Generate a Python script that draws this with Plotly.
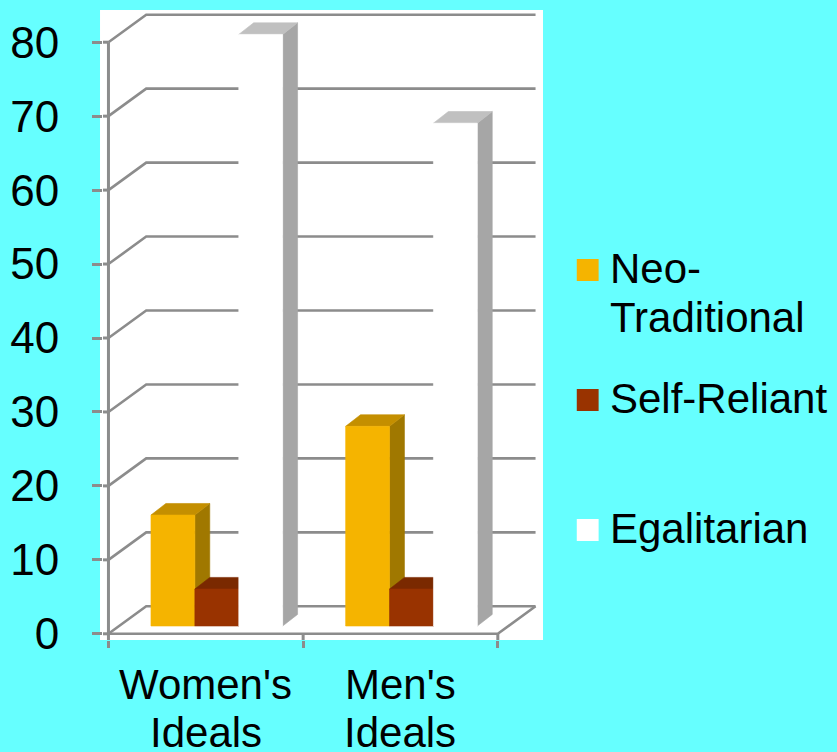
import plotly.graph_objects as go

# ---------------- data ----------------
categories = ["Women's Ideals", "Men's Ideals"]
category_label_lines = [["Women's", "Ideals"], ["Men's", "Ideals"]]
series_names = ["Neo-Traditional", "Self-Reliant", "Egalitarian"]
legend_label_lines = [["Neo-", "Traditional"], ["Self-Reliant"], ["Egalitarian"]]
neo_traditional = [15, 27]
self_reliant = [5, 5]
egalitarian = [80, 68]
y_ticks = [0, 10, 20, 30, 40, 50, 60, 70, 80]

series_values = [neo_traditional, self_reliant, egalitarian]

# ---------------- styles ----------------
BG = "#66FFFF"
GRID = "#8C8C8C"
FONT = "Liberation Sans, Arial, sans-serif"
front_colors = ["#F5B400", "#993300", "#FFFFFF"]
top_colors = ["#C48F00", "#7A2900", "#C0C0C0"]
side_colors = ["#A07800", "#6E2400", "#A6A6A6"]

W, H = 837, 752
PL, PR, PT, PB = 100, 543, 10, 640          # plot area in pixels
PX_X0, PX_PER_CAT = 105.5, 196.0            # x pixel of category boundary 0, width of a category
PX_Y0, PX_PER_UNIT = 633.8, 7.395           # y pixel of value 0 (front), px per unit

x_min = (PL - PX_X0) / PX_PER_CAT
x_max = (PR - PX_X0) / PX_PER_CAT
y_min = (PX_Y0 - PB) / PX_PER_UNIT
y_max = (PX_Y0 - PT) / PX_PER_UNIT

# 3D depth of the walls and bars (in data units)
WDX, WDY = 38 / PX_PER_CAT, 27.5 / PX_PER_UNIT
BAR_W = 44.2 / PX_PER_CAT
BAR_OFFX = 11.1 / PX_PER_CAT
BAR_BASE = 7.8 / PX_PER_UNIT
BDX, BDY = 15 / PX_PER_CAT, 11.6 / PX_PER_UNIT

n_cat = len(categories)
n_ser = len(series_names)

fig = go.Figure()


def add_line(xs, ys, width):
    fig.add_trace(go.Scatter(x=xs, y=ys, mode="lines",
                             line=dict(color=GRID, width=width),
                             hoverinfo="skip", showlegend=False))


def add_poly(xs, ys, color):
    fig.add_trace(go.Scatter(x=xs + [xs[0]], y=ys + [ys[0]], mode="lines",
                             fill="toself", fillcolor=color,
                             line=dict(color=color, width=0.6),
                             hoverinfo="skip", showlegend=False))


# back wall gridlines with side-wall diagonals
gx, gy = [], []
for v in y_ticks:
    gx += [0, WDX, n_cat + WDX, None]
    gy += [v, v + WDY, v + WDY, None]
add_line(gx, gy, 2.6)

# floor front edge + right diagonal
add_line([0, n_cat, n_cat + WDX], [0, 0, WDY], 2.6)

# bars (side, top, front per bar, drawn left to right)
for c in range(n_cat):
    group_left = c + 0.5 - n_ser * BAR_W / 2 + BAR_OFFX
    for s in range(n_ser):
        v = series_values[s][c]
        x0 = group_left + s * BAR_W
        x1 = x0 + BAR_W
        b = BAR_BASE
        t = BAR_BASE + v
        add_poly([x1, x1 + BDX, x1 + BDX, x1], [b, b + BDY, t + BDY, t], side_colors[s])
        add_poly([x0, x1, x1 + BDX, x0 + BDX], [t, t, t + BDY, t + BDY], top_colors[s])
        add_poly([x0, x1, x1, x0], [b, b, t, t], front_colors[s])

# front value axis line, category tick extensions, value tick stubs
ax_x, ax_y = [0, 0, None], [y_ticks[-1], y_min, None]
for k in range(1, n_cat + 1):
    ax_x += [k, k, None]
    ax_y += [0, y_min, None]
for v in y_ticks:
    ax_x += [x_min, 0, None]
    ax_y += [v, v, None]
add_line(ax_x, ax_y, 3)

# category labels
annotations = []
line_centers_px = [684.5, 732.5]
for c in range(n_cat):
    for i, txt in enumerate(category_label_lines[c]):
        annotations.append(dict(
            x=c + 0.5, xref="x",
            y=(PB - line_centers_px[i]) / (PB - PT), yref="paper",
            text=txt, showarrow=False, xanchor="center", yanchor="middle",
            font=dict(family=FONT, size=42, color="black")))

# legend (manual)
shapes = [dict(type="rect", xref="paper", yref="paper",
               x0=(97 - PL) / (PR - PL), x1=1.0, y0=0, y1=1,
               fillcolor="white", line=dict(width=0), layer="below")]
legend_square_tops = [259, 389, 519]
legend_text_centers = [[268.5, 317.5], [398.5], [528.5]]
for s in range(n_ser):
    top = legend_square_tops[s]
    shapes.append(dict(type="rect", xref="paper", yref="paper",
                       x0=(577 - PL) / (PR - PL), x1=(599 - PL) / (PR - PL),
                       y0=(PB - (top + 22)) / (PB - PT), y1=(PB - top) / (PB - PT),
                       fillcolor=front_colors[s], line=dict(width=0)))
    for i, txt in enumerate(legend_label_lines[s]):
        annotations.append(dict(
            x=(608 - PL) / (PR - PL), xref="paper",
            y=(PB - legend_text_centers[s][i]) / (PB - PT), yref="paper",
            text=txt, showarrow=False, xanchor="left", yanchor="middle",
            font=dict(family=FONT, size=42, color="black")))

fig.update_layout(
    width=W, height=H,
    margin=dict(l=PL, r=W - PR, t=PT, b=H - PB, pad=0),
    paper_bgcolor=BG, plot_bgcolor="white",
    showlegend=False,
    shapes=shapes, annotations=annotations,
    xaxis=dict(range=[x_min, x_max], showgrid=False, zeroline=False,
               showline=False, tickmode="array", tickvals=[0, 1, 2],
               ticks="outside", ticklen=7, tickwidth=3, tickcolor=GRID,
               showticklabels=False, fixedrange=True),
    yaxis=dict(range=[y_min, y_max], showgrid=False, zeroline=False,
               showline=False, tickmode="array", tickvals=y_ticks,
               ticktext=[str(v) for v in y_ticks],
               ticks="outside", ticklen=10, tickwidth=2.6, tickcolor=GRID,
               ticklabelstandoff=24,
               tickfont=dict(family=FONT, size=44, color="black"),
               fixedrange=True),
)

fig.write_html(
    "out.html",
    config={"displayModeBar": False},
    post_script="document.body.style.margin='0';document.body.style.overflow='hidden';",
)
